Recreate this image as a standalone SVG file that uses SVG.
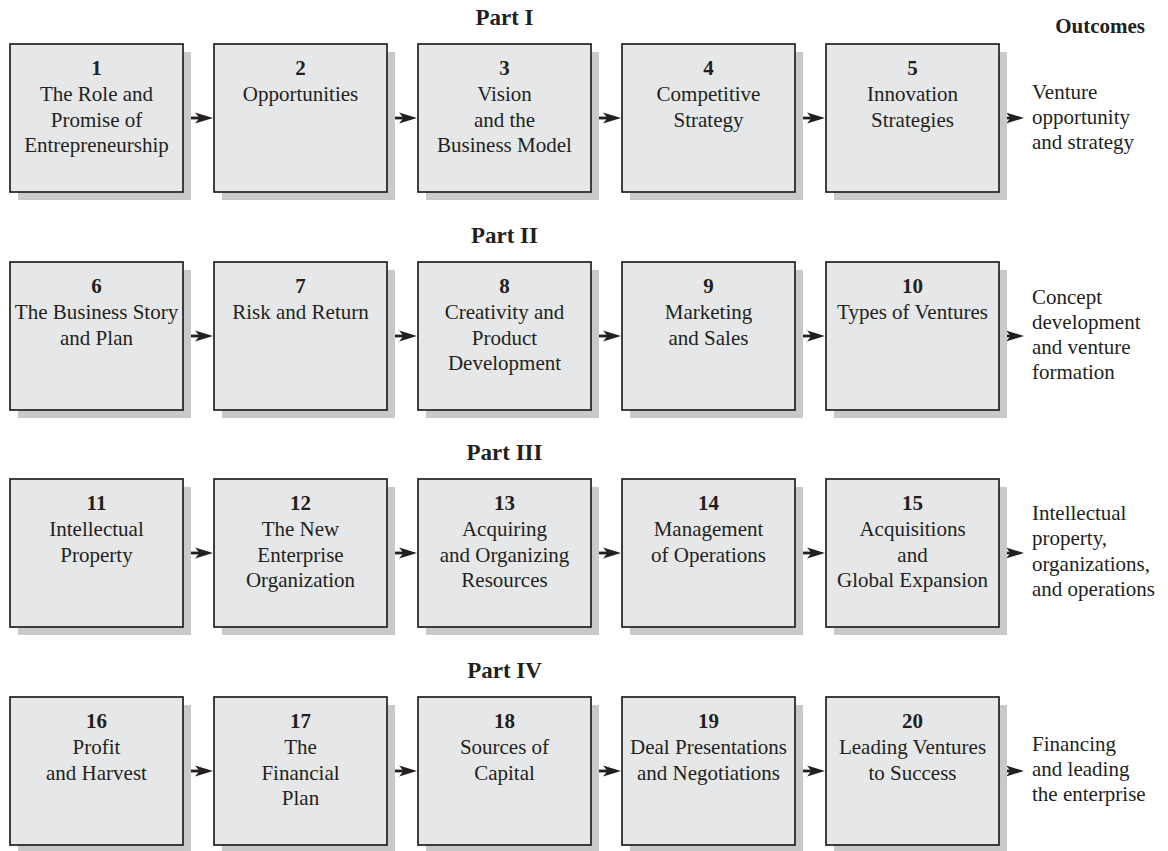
<svg xmlns="http://www.w3.org/2000/svg" width="1168" height="851" viewBox="0 0 1168 851">
<defs>
<style>
.shadow{fill:#c8c9cb;}
.box{fill:#e6e7e8;stroke:#231f20;stroke-width:1.7;}
text{font-family:"Liberation Serif","Times New Roman",serif;fill:#231f20;font-size:21px;}
.c{text-anchor:middle;}
.b{font-weight:bold;}
.part{font-weight:bold;font-size:23px;text-anchor:middle;}
.out{text-anchor:start;}
.arr{stroke:#231f20;stroke-width:2.8;fill:none;marker-end:url(#ah);}
</style>
<marker id="ah" viewBox="0 0 18 12" refX="9" refY="6" markerWidth="18" markerHeight="12" markerUnits="userSpaceOnUse" orient="auto">
<path d="M0,0.5 L18,6 L0,11.5 L4.5,6 Z" fill="#231f20"/>
</marker>
</defs>
<rect width="1168" height="851" fill="#ffffff"/>

<text class="part" x="504.5" y="25">Part I</text>
<text class="part" x="504.5" y="243">Part II</text>
<text class="part" x="504.5" y="460">Part III</text>
<text class="part" x="504.5" y="678">Part IV</text>
<text class="b" x="1145" y="33" text-anchor="end">Outcomes</text>

<g id="connectors">
<line class="arr" x1="183" y1="118" x2="204" y2="118"/>
<line class="arr" x1="387" y1="118" x2="408" y2="118"/>
<line class="arr" x1="591" y1="118" x2="612" y2="118"/>
<line class="arr" x1="795" y1="118" x2="816" y2="118"/>
<line class="arr" x1="999" y1="118" x2="1015" y2="118"/>
<line class="arr" x1="183" y1="336" x2="204" y2="336"/>
<line class="arr" x1="387" y1="336" x2="408" y2="336"/>
<line class="arr" x1="591" y1="336" x2="612" y2="336"/>
<line class="arr" x1="795" y1="336" x2="816" y2="336"/>
<line class="arr" x1="999" y1="336" x2="1015" y2="336"/>
<line class="arr" x1="183" y1="553" x2="204" y2="553"/>
<line class="arr" x1="387" y1="553" x2="408" y2="553"/>
<line class="arr" x1="591" y1="553" x2="612" y2="553"/>
<line class="arr" x1="795" y1="553" x2="816" y2="553"/>
<line class="arr" x1="999" y1="553" x2="1015" y2="553"/>
<line class="arr" x1="183" y1="771" x2="204" y2="771"/>
<line class="arr" x1="387" y1="771" x2="408" y2="771"/>
<line class="arr" x1="591" y1="771" x2="612" y2="771"/>
<line class="arr" x1="795" y1="771" x2="816" y2="771"/>
<line class="arr" x1="999" y1="771" x2="1015" y2="771"/>
</g>

<!-- Row 1 -->
<g id="node1"><rect class="shadow" x="18" y="52" width="173" height="148"/><rect class="box" x="10" y="44" width="173" height="148"/>
<text class="c b" x="96.5" y="75">1</text><text class="c" x="96.5" y="101">The Role and</text><text class="c" x="96.5" y="126.5">Promise of</text><text class="c" x="96.5" y="152">Entrepreneurship</text></g>
<g id="node2"><rect class="shadow" x="222" y="52" width="173" height="148"/><rect class="box" x="214" y="44" width="173" height="148"/>
<text class="c b" x="300.5" y="75">2</text><text class="c" x="300.5" y="101">Opportunities</text></g>
<g id="node3"><rect class="shadow" x="426" y="52" width="173" height="148"/><rect class="box" x="418" y="44" width="173" height="148"/>
<text class="c b" x="504.5" y="75">3</text><text class="c" x="504.5" y="101">Vision</text><text class="c" x="504.5" y="126.5">and the</text><text class="c" x="504.5" y="152">Business Model</text></g>
<g id="node4"><rect class="shadow" x="630" y="52" width="173" height="148"/><rect class="box" x="622" y="44" width="173" height="148"/>
<text class="c b" x="708.5" y="75">4</text><text class="c" x="708.5" y="101">Competitive</text><text class="c" x="708.5" y="126.5">Strategy</text></g>
<g id="node5"><rect class="shadow" x="834" y="52" width="173" height="148"/><rect class="box" x="826" y="44" width="173" height="148"/>
<text class="c b" x="912.5" y="75">5</text><text class="c" x="912.5" y="101">Innovation</text><text class="c" x="912.5" y="126.5">Strategies</text></g>
<g id="outcome1"><text class="out" x="1032" y="99">Venture</text><text class="out" x="1032" y="124">opportunity</text><text class="out" x="1032" y="149">and strategy</text></g>

<!-- Row 2 -->
<g id="node6"><rect class="shadow" x="18" y="270" width="173" height="148"/><rect class="box" x="10" y="262" width="173" height="148"/>
<text class="c b" x="96.5" y="293">6</text><text class="c" x="96.5" y="319">The Business Story</text><text class="c" x="96.5" y="344.5">and Plan</text></g>
<g id="node7"><rect class="shadow" x="222" y="270" width="173" height="148"/><rect class="box" x="214" y="262" width="173" height="148"/>
<text class="c b" x="300.5" y="293">7</text><text class="c" x="300.5" y="319">Risk and Return</text></g>
<g id="node8"><rect class="shadow" x="426" y="270" width="173" height="148"/><rect class="box" x="418" y="262" width="173" height="148"/>
<text class="c b" x="504.5" y="293">8</text><text class="c" x="504.5" y="319">Creativity and</text><text class="c" x="504.5" y="344.5">Product</text><text class="c" x="504.5" y="370">Development</text></g>
<g id="node9"><rect class="shadow" x="630" y="270" width="173" height="148"/><rect class="box" x="622" y="262" width="173" height="148"/>
<text class="c b" x="708.5" y="293">9</text><text class="c" x="708.5" y="319">Marketing</text><text class="c" x="708.5" y="344.5">and Sales</text></g>
<g id="node10"><rect class="shadow" x="834" y="270" width="173" height="148"/><rect class="box" x="826" y="262" width="173" height="148"/>
<text class="c b" x="912.5" y="293">10</text><text class="c" x="912.5" y="319">Types of Ventures</text></g>
<g id="outcome2"><text class="out" x="1032" y="304">Concept</text><text class="out" x="1032" y="329">development</text><text class="out" x="1032" y="354">and venture</text><text class="out" x="1032" y="379">formation</text></g>

<!-- Row 3 -->
<g id="node11"><rect class="shadow" x="18" y="487" width="173" height="148"/><rect class="box" x="10" y="479" width="173" height="148"/>
<text class="c b" x="96.5" y="510">11</text><text class="c" x="96.5" y="536">Intellectual</text><text class="c" x="96.5" y="561.5">Property</text></g>
<g id="node12"><rect class="shadow" x="222" y="487" width="173" height="148"/><rect class="box" x="214" y="479" width="173" height="148"/>
<text class="c b" x="300.5" y="510">12</text><text class="c" x="300.5" y="536">The New</text><text class="c" x="300.5" y="561.5">Enterprise</text><text class="c" x="300.5" y="587">Organization</text></g>
<g id="node13"><rect class="shadow" x="426" y="487" width="173" height="148"/><rect class="box" x="418" y="479" width="173" height="148"/>
<text class="c b" x="504.5" y="510">13</text><text class="c" x="504.5" y="536">Acquiring</text><text class="c" x="504.5" y="561.5">and Organizing</text><text class="c" x="504.5" y="587">Resources</text></g>
<g id="node14"><rect class="shadow" x="630" y="487" width="173" height="148"/><rect class="box" x="622" y="479" width="173" height="148"/>
<text class="c b" x="708.5" y="510">14</text><text class="c" x="708.5" y="536">Management</text><text class="c" x="708.5" y="561.5">of Operations</text></g>
<g id="node15"><rect class="shadow" x="834" y="487" width="173" height="148"/><rect class="box" x="826" y="479" width="173" height="148"/>
<text class="c b" x="912.5" y="510">15</text><text class="c" x="912.5" y="536">Acquisitions</text><text class="c" x="912.5" y="561.5">and</text><text class="c" x="912.5" y="587">Global Expansion</text></g>
<g id="outcome3"><text class="out" x="1032" y="520">Intellectual</text><text class="out" x="1032" y="545">property,</text><text class="out" x="1032" y="570.5">organizations,</text><text class="out" x="1032" y="596">and operations</text></g>

<!-- Row 4 -->
<g id="node16"><rect class="shadow" x="18" y="705" width="173" height="148"/><rect class="box" x="10" y="697" width="173" height="148"/>
<text class="c b" x="96.5" y="728">16</text><text class="c" x="96.5" y="754">Profit</text><text class="c" x="96.5" y="779.5">and Harvest</text></g>
<g id="node17"><rect class="shadow" x="222" y="705" width="173" height="148"/><rect class="box" x="214" y="697" width="173" height="148"/>
<text class="c b" x="300.5" y="728">17</text><text class="c" x="300.5" y="754">The</text><text class="c" x="300.5" y="779.5">Financial</text><text class="c" x="300.5" y="805">Plan</text></g>
<g id="node18"><rect class="shadow" x="426" y="705" width="173" height="148"/><rect class="box" x="418" y="697" width="173" height="148"/>
<text class="c b" x="504.5" y="728">18</text><text class="c" x="504.5" y="754">Sources of</text><text class="c" x="504.5" y="779.5">Capital</text></g>
<g id="node19"><rect class="shadow" x="630" y="705" width="173" height="148"/><rect class="box" x="622" y="697" width="173" height="148"/>
<text class="c b" x="708.5" y="728">19</text><text class="c" x="708.5" y="754">Deal Presentations</text><text class="c" x="708.5" y="779.5">and Negotiations</text></g>
<g id="node20"><rect class="shadow" x="834" y="705" width="173" height="148"/><rect class="box" x="826" y="697" width="173" height="148"/>
<text class="c b" x="912.5" y="728">20</text><text class="c" x="912.5" y="754">Leading Ventures</text><text class="c" x="912.5" y="779.5">to Success</text></g>
<g id="outcome4"><text class="out" x="1032" y="751">Financing</text><text class="out" x="1032" y="776">and leading</text><text class="out" x="1032" y="801">the enterprise</text></g>
</svg>
